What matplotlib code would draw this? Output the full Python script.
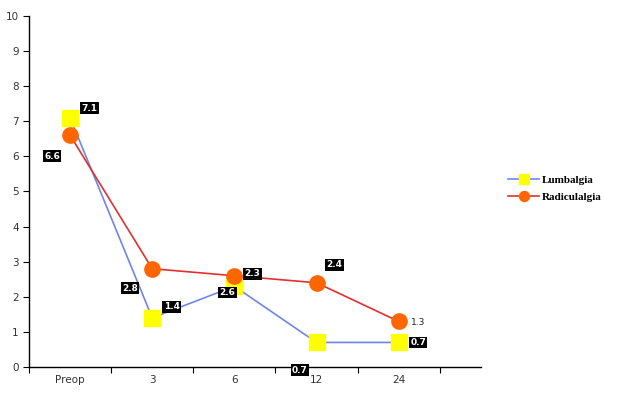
import matplotlib
matplotlib.use('Agg')
import matplotlib.pyplot as plt
from matplotlib.ticker import FixedLocator

categories = ["Preop", "3", "6", "12", "24"]
lumbalgia = [7.1, 1.4, 2.3, 0.7, 0.7]
radiculalgia = [6.6, 2.8, 2.6, 2.4, 1.3]

# label offsets in points (dx, dy) and whether the label gets a black box
lumb_offsets = [(14, 7), (14, 8), (13, 9), (-12, -20), (14, 0)]
rad_offsets = [(-13, -15), (-16, -14), (-5, -12), (13, 13), (14, -1)]
rad_boxed = [True, True, True, True, False]

x = [i + 0.5 for i in range(len(categories))]

fig = plt.figure(figsize=(6.18, 3.94), dpi=100)
ax = fig.add_axes([0.047, 0.0685, 0.731, 0.891])

ax.plot(x, lumbalgia, color='#6f86e8', linewidth=1.2, marker='s', markersize=11,
        markerfacecolor='#ffff00', markeredgecolor='#ffff00', label='Lumbalgia', zorder=3)
ax.plot(x, radiculalgia, color='#e03030', linewidth=1.2, marker='o', markersize=11,
        markerfacecolor='#ff6600', markeredgecolor='#ff6600', label='Radiculalgia', zorder=3)

box = dict(boxstyle='square,pad=0.15', facecolor='black', edgecolor='none')
for xi, v, off in zip(x, lumbalgia, lumb_offsets):
    ax.annotate(f"{v}", (xi, v), xytext=off, textcoords='offset points',
                ha='center', va='center', fontsize=6.5, color='white',
                fontweight='bold', bbox=box, zorder=5, annotation_clip=False)
for xi, v, off, boxed in zip(x, radiculalgia, rad_offsets, rad_boxed):
    if boxed:
        ax.annotate(f"{v}", (xi, v), xytext=off, textcoords='offset points',
                    ha='center', va='center', fontsize=6.5, color='white',
                    fontweight='bold', bbox=box, zorder=5, annotation_clip=False)
    else:
        ax.annotate(f"{v}", (xi, v), xytext=off, textcoords='offset points',
                    ha='center', va='center', fontsize=6.5, color='#222222', zorder=5)

ax.set_xlim(0, 5.5)
ax.set_ylim(0, 10)
ax.set_yticks(range(0, 11))
ax.xaxis.set_major_locator(FixedLocator([0, 1, 2, 3, 4, 5]))
ax.xaxis.set_major_formatter(plt.NullFormatter())
ax.xaxis.set_minor_locator(FixedLocator(x))
ax.set_xticklabels(categories, minor=True)
ax.tick_params(axis='x', which='minor', length=0, labelsize=7.5, pad=6)
ax.tick_params(axis='x', which='major', length=4, width=0.8)
ax.tick_params(axis='y', length=4, width=0.8, labelsize=7.5, colors='black')
for lbl in ax.get_yticklabels() + ax.get_xticklabels(minor=True):
    lbl.set_color('#333333')

ax.spines['top'].set_visible(False)
ax.spines['right'].set_visible(False)
ax.spines['left'].set_linewidth(1.0)
ax.spines['bottom'].set_linewidth(1.0)

fig.legend(loc='upper left', bbox_to_anchor=(0.806, 0.58), frameon=False,
           prop={'family': 'Liberation Serif', 'weight': 'bold', 'size': 8},
           handlelength=2.8, handletextpad=0.2, labelspacing=0.65, markerscale=0.65)

fig.savefig('out.png', dpi=100)
